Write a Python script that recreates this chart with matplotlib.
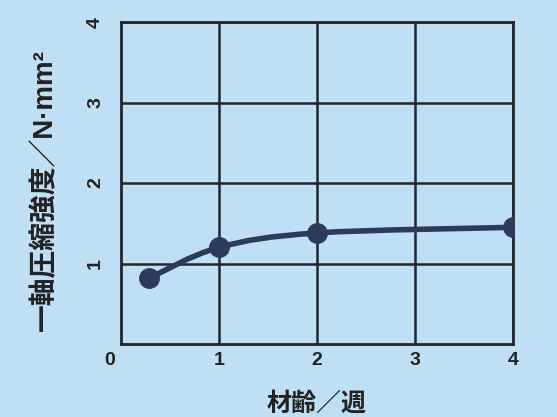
import numpy as np
import matplotlib.pyplot as plt
from matplotlib.path import Path
from matplotlib.patches import PathPatch

plt.rcParams['font.family'] = ['Noto Sans CJK JP', 'DejaVu Sans']

# データ
age_weeks = [0.29, 1.0, 2.0, 4.0]
strength = [0.82, 1.20, 1.38, 1.45]
x_ticks = [1, 2, 3, 4]
y_ticks = [1, 2, 3, 4]

bg = '#bfdff5'
line_col = '#2e3a5c'
grid_col = '#23252f'
txt_col = '#222222'
num_font = ['Liberation Sans', 'DejaVu Sans']


# Catmull-Rom -> Bezier で点を滑らかにつなぐ
def smooth_path(xs, ys):
    pts = np.column_stack([xs, ys])
    verts = [pts[0]]
    codes = [Path.MOVETO]
    n = len(pts)
    for i in range(n - 1):
        p0 = pts[i - 1] if i > 0 else pts[i]
        p1 = pts[i]
        p2 = pts[i + 1]
        p3 = pts[i + 2] if i + 2 < n else pts[i + 1]
        c1 = p1 + (p2 - p0) / 6
        c2 = p2 - (p3 - p1) / 6
        verts += [c1, c2, p2]
        codes += [Path.CURVE4] * 3
    return Path(verts, codes)


fig = plt.figure(figsize=(5.57, 4.17), dpi=100, facecolor=bg)
ax = fig.add_axes([0.217, 0.175, 0.704, 0.772])
ax.set_facecolor(bg)

ax.add_patch(PathPatch(smooth_path(age_weeks, strength), facecolor='none',
                       edgecolor=line_col, lw=4, zorder=3))
ax.plot(age_weeks, strength, 'o', color=line_col, ms=14, zorder=4)

ax.set_xlim(0, 4)
ax.set_ylim(0, 4)
ax.set_xticks(x_ticks)
ax.set_yticks(y_ticks)
ax.grid(True, color=grid_col, lw=1.8)
for s in ax.spines.values():
    s.set_color(grid_col)
    s.set_linewidth(2)
ax.tick_params(length=0, labelsize=14, colors=txt_col)
ax.tick_params(axis='x', pad=6)
ax.tick_params(axis='y', pad=12)
for lab in ax.get_xticklabels() + ax.get_yticklabels():
    lab.set_family(num_font)
    lab.set_fontweight('bold')
for lab in ax.get_yticklabels():
    lab.set_rotation(90)
    lab.set_va('center')
ax.text(-0.11, -0.21, '0', fontsize=14, fontweight='bold', ha='center', va='center',
        color=txt_col, family=num_font)

ax.set_xlabel('材齢／週', fontsize=18, fontweight='bold', color=txt_col)
ax.set_ylabel('一軸圧縮強度／N·mm²', fontsize=20, fontweight='bold', color=txt_col,
              family=['Liberation Sans', 'Noto Sans CJK JP'])
ax.xaxis.set_label_coords(0.5, -0.186)
ax.yaxis.set_label_coords(-0.194, 0.48)
ax.xaxis.label.set_va('center')
ax.yaxis.label.set_va('center')

fig.savefig('out.png', dpi=100, facecolor=bg)
